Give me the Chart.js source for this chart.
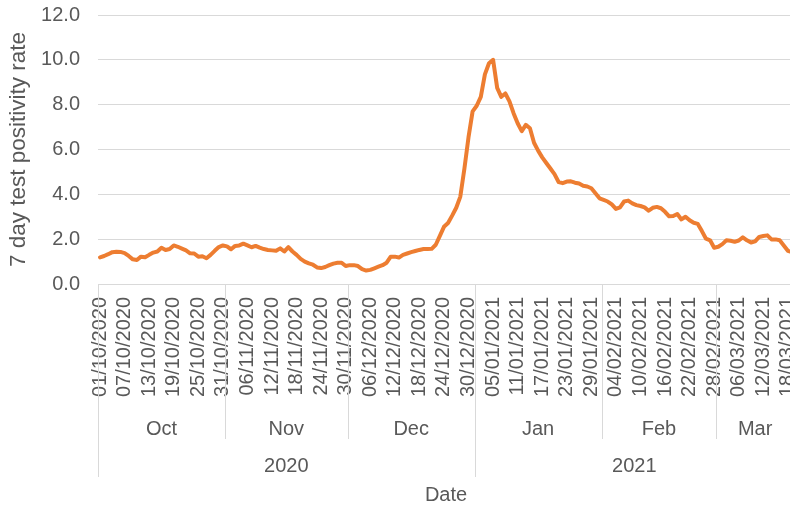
<!DOCTYPE html>
<html>
<head>
<meta charset="utf-8">
<script src="https://cdn.jsdelivr.net/npm/chart.js@4.4.1/dist/chart.umd.min.js"></script>
<style>
  html, body { margin: 0; padding: 0; background: #ffffff; overflow: hidden; width: 790px; height: 508px; }
  #wrap { width: 790px; height: 508px; overflow: hidden; position: relative; }
  canvas { display: block; }
</style>
</head>
<body>
<div id="wrap"><canvas id="chart" width="794" height="508"></canvas></div>
<script>
// ---- data ----
const firstDay = { year: 2020, month: 10, day: 1 };   // 01/10/2020
const positivityRate = [
  1.19, 1.25, 1.33, 1.42, 1.44, 1.43, 1.38, 1.25, 1.10, 1.07,
  1.22, 1.19, 1.30, 1.40, 1.45, 1.62, 1.52, 1.56, 1.72, 1.66,
  1.58, 1.50, 1.37, 1.36, 1.22, 1.24, 1.15, 1.30, 1.48, 1.65,
  1.72, 1.68, 1.55, 1.70, 1.72, 1.80, 1.72, 1.64, 1.70, 1.62,
  1.56, 1.52, 1.50, 1.48, 1.59,
  1.45, 1.64, 1.45, 1.30, 1.12, 1.00, 0.92, 0.86, 0.74, 0.71,
  0.76, 0.84, 0.91, 0.95, 0.95, 0.80, 0.84, 0.84, 0.80, 0.66,
  0.60, 0.63, 0.70, 0.77, 0.84, 0.95, 1.22, 1.22, 1.18, 1.30,
  1.36, 1.42, 1.47, 1.52, 1.56, 1.56, 1.57, 1.75, 2.15,
  2.55, 2.72, 3.05, 3.40, 3.90, 5.15, 6.55, 7.70, 7.95, 8.35,
  9.35, 9.85, 10.00, 8.75, 8.35, 8.50, 8.15, 7.62, 7.17, 6.82,
  7.10, 6.95, 6.30, 5.95, 5.65, 5.40, 5.15, 4.90, 4.55, 4.50,
  4.57, 4.58, 4.52, 4.48, 4.38, 4.35, 4.27, 4.05,
  3.82, 3.75, 3.68, 3.55, 3.35, 3.42, 3.68, 3.72, 3.60, 3.52,
  3.48, 3.42, 3.27, 3.40, 3.44, 3.38, 3.22, 3.02, 3.03, 3.12,
  2.88, 3.00, 2.84, 2.73, 2.68, 2.36, 2.02, 1.95, 1.62, 1.66,
  1.78, 1.95, 1.93, 1.88, 1.94, 2.08, 1.95, 1.85, 1.90, 2.10,
  2.14, 2.17, 1.99, 1.99, 1.95, 1.72, 1.48, 1.42
];
const monthNames = ['Jan','Feb','Mar','Apr','May','Jun','Jul','Aug','Sep','Oct','Nov','Dec'];
const yTicks = [0, 2, 4, 6, 8, 10, 12];
const dateLabelStep = 6;
const yTitle = '7 day test positivity rate';
const xTitle = 'Date';

// category labels: one per day
const pad2 = n => String(n).padStart(2, '0');
const dates = [];
const dateParts = [];
for (let i = 0; i < positivityRate.length; i++) {
  const d = new Date(Date.UTC(firstDay.year, firstDay.month - 1, firstDay.day + i));
  const dd = d.getUTCDate(), mm = d.getUTCMonth() + 1, yy = d.getUTCFullYear();
  dates.push(pad2(dd) + '/' + pad2(mm) + '/' + yy);
  dateParts.push({ month: mm, year: yy });
}

// ---- style ----
const FONT = "'Liberation Sans', Arial, sans-serif";
const TEXT = '#595959';
const GRID = '#d9d9d9';

// multi-level category axis (month / year bands) drawn from the x scale
const groupAxis = {
  id: 'groupAxis',
  afterDraw(chart) {
    const xs = chart.scales.x, ctx = chart.ctx;
    const n = dates.length;
    const slot = xs.getPixelForValue(1) - xs.getPixelForValue(0);
    const edge = i => xs.getPixelForValue(i) - slot / 2;
    const top = xs.top;
    const build = key => {
      const g = [];
      dateParts.forEach((p, i) => {
        const k = key(p);
        if (!g.length || g[g.length - 1].k !== k) g.push({ k, start: i, end: i + 1, p });
        else g[g.length - 1].end = i + 1;
      });
      return g;
    };
    const months = build(p => p.year * 100 + p.month);
    const years = build(p => p.year);
    ctx.save();
    ctx.strokeStyle = GRID;
    ctx.lineWidth = 1;
    const vline = (x, y2) => {
      const xx = Math.round(x) + 0.5;
      ctx.beginPath(); ctx.moveTo(xx, top); ctx.lineTo(xx, y2); ctx.stroke();
    };
    months.forEach(g => vline(edge(g.start), 439));
    years.forEach(g => vline(edge(g.start), 477));
    vline(edge(n), 477);
    ctx.fillStyle = TEXT;
    ctx.textAlign = 'center';
    ctx.textBaseline = 'middle';
    ctx.font = '20px ' + FONT;
    months.forEach(g => ctx.fillText(monthNames[g.p.month - 1], (edge(g.start) + edge(g.end)) / 2, 429));
    years.forEach(g => ctx.fillText(String(g.p.year), (edge(g.start) + edge(g.end)) / 2, 466));
    ctx.restore();
  }
};

new Chart(document.getElementById('chart').getContext('2d'), {
  type: 'line',
  data: {
    labels: dates,
    datasets: [{
      data: positivityRate,
      borderColor: '#ED7D31',
      borderWidth: 4,
      pointRadius: 0,
      tension: 0,
      fill: false,
      borderCapStyle: 'round',
      borderJoinStyle: 'round'
    }]
  },
  options: {
    responsive: false,
    animation: false,
    devicePixelRatio: 1,
    layout: { padding: { top: 15, right: 0, bottom: 0, left: 0 } },
    plugins: { legend: { display: false }, tooltip: { enabled: false } },
    scales: {
      x: {
        type: 'category',
        offset: true,
        grid: { display: false, drawTicks: false },
        border: { display: true, color: GRID, width: 1 },
        ticks: {
          autoSkip: false, minRotation: 90, maxRotation: 90, padding: 13,
          color: TEXT, font: { family: FONT, size: 20 },
          callback: (v, i) => (i % dateLabelStep === 0 ? dates[i] : '')
        },
        title: { display: true, text: xTitle, color: TEXT, font: { family: FONT, size: 20 }, padding: { top: 0, bottom: 1 } },
        afterFit: s => { s.height = 224; s.paddingLeft = 0; s.paddingRight = 0; }
      },
      y: {
        min: 0, max: 12,
        afterBuildTicks: s => { s.ticks = yTicks.map(v => ({ value: v })); },
        grid: { color: GRID, lineWidth: 1, drawTicks: false },
        border: { display: false },
        ticks: { padding: 18, color: TEXT, font: { family: FONT, size: 20 }, callback: v => Number(v).toFixed(1) },
        title: { display: true, text: yTitle, color: TEXT, font: { family: FONT, size: 22.5 }, padding: { top: 5.5, bottom: 0 } },
        afterFit: s => { s.width = 98; s.paddingTop = 0; s.paddingBottom = 0; }
      }
    }
  },
  plugins: [groupAxis]
});
</script>
</body>
</html>
